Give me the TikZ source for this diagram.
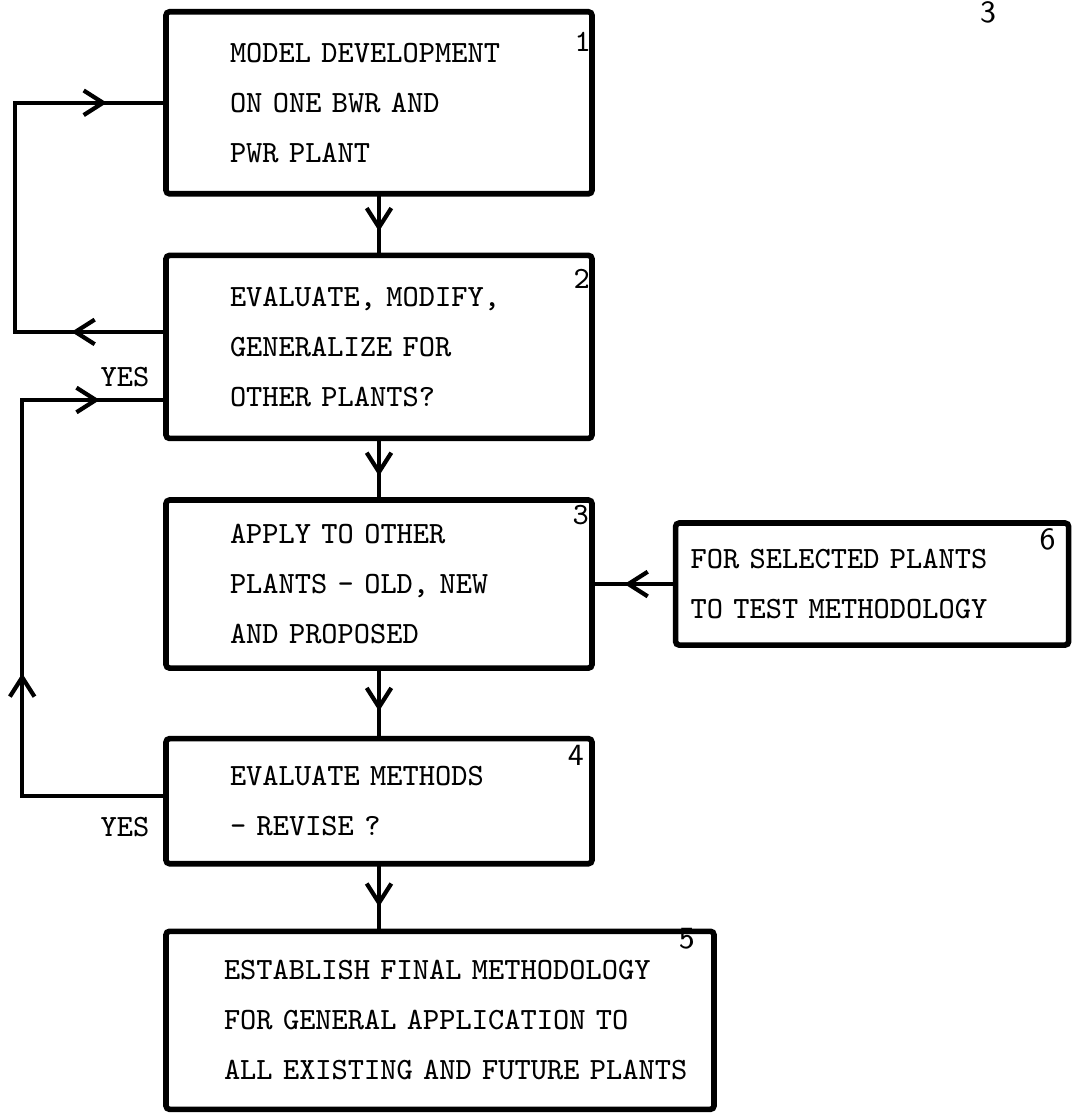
\documentclass[tikz,border=0pt]{standalone}
\usetikzlibrary{calc, positioning, arrows.meta, decorations.markings}

\begin{document}
\begin{tikzpicture}[
   node distance = 5.6mm,
      box/.style = {draw, line width=1.6pt, rounded corners=1pt,
                    minimum width=42.6mm, text width=29.8mm,
                    inner xsep=6.4mm, align=left,
                    font=\fontsize{8.8}{14.2}\selectfont\ttfamily},
      num/.style = {inner sep=0pt,
                    font=\fontsize{8.8}{10}\selectfont\ttfamily},
     snum/.style = {inner sep=0pt,
                    font=\fontsize{8.8}{10}\selectfont\sffamily},
     wire/.style = {line width=1.2pt, line cap=rect},
     flow/.style = {wire, postaction={decorate},
                    decoration={markings, mark=at position #1 with
                    {\arrow{Straight Barb[length=5.5pt, width=7pt]}}}},
   flow/.default = 0.62
                    ]
  \useasboundingbox (0,0) rectangle (10.71,-11.15);
  \node (n1) [box, minimum height=18.2mm, anchor=north] at (3.79,-0.09)
        {MODEL DEVELOPMENT\\ ON ONE BWR AND\\ PWR PLANT};
  \node (n2) [box, minimum height=18.3mm, below=of n1]
        {EVALUATE, MODIFY,\\ GENERALIZE FOR\\ OTHER PLANTS?};
  \node (n3) [box, minimum height=16.8mm, below=of n2]
        {APPLY TO OTHER\\ PLANTS - OLD, NEW\\ AND PROPOSED};
  \node (n4) [box, minimum height=12.5mm, below=6.5mm of n3]
        {EVALUATE METHODS\\ - REVISE ?};
  \node (n5) [box, minimum height=17.8mm, minimum width=54.8mm,
              text width=54.6mm, inner xsep=0.1mm,
              below=6.2mm of n4.south west, anchor=north west]
        {\hspace*{5.7mm}ESTABLISH FINAL METHODOLOGY\\
         \hspace*{5.7mm}FOR GENERAL APPLICATION TO\\
         \hspace*{5.7mm}ALL EXISTING AND FUTURE PLANTS};
  \node (n6) [box, minimum height=12.2mm, minimum width=39.3mm,
              text width=36.3mm, inner xsep=1.5mm, right=7.8mm of n3]
        {FOR SELECTED PLANTS\\ TO TEST METHODOLOGY};
  \node (l1) [num]  at ($(n1.north east)+(-0.12,-0.33)$) {1};
  \node (l2) [num]  at ($(n2.north east)+(-0.13,-0.26)$) {2};
  \node (l3) [num]  at ($(n3.north east)+(-0.14,-0.18)$) {3};
  \node (l4) [snum] at ($(n4.north east)+(-0.19,-0.20)$) {4};
  \node (l5) [snum] at ($(n5.north east)+(-0.30,-0.10)$) {5};
  \node (l6) [snum] at ($(n6.north east)+(-0.24,-0.19)$) {6};
  \node (pg) [snum] at (9.88,-0.12) {3};
  \node (y1) [num]  at (1.25,-3.77) {YES};
  \node (y2) [num]  at (1.25,-8.27) {YES};
    \draw [flow] (n1) -- (n2);
    \draw [flow] (n2) -- (n3);
    \draw [flow] (n3) -- (n4);
    \draw [flow=0.65] (n4) -- (n4 |- n5.north);
    \draw [flow] (n6) -- (n3);
    \draw [flow] ([yshift=1.5mm]n2.west) -- ++(-1.48,0) coordinate (c2);
    \draw [wire] (c2) -- (c2 |- n1.west) coordinate (c1);
    \draw [flow] (c1) -- (n1.west);
    \draw [wire] ([yshift=0.5mm]n4.west) -- ++(-1.41,0) coordinate (c3);
    \draw [flow=0.31] (c3) -- (c3 |- 0,-4.0) coordinate (c4);
    \draw [flow=0.55] (c4) -- (c4 -| n2.west);
\end{tikzpicture}
\end{document}
